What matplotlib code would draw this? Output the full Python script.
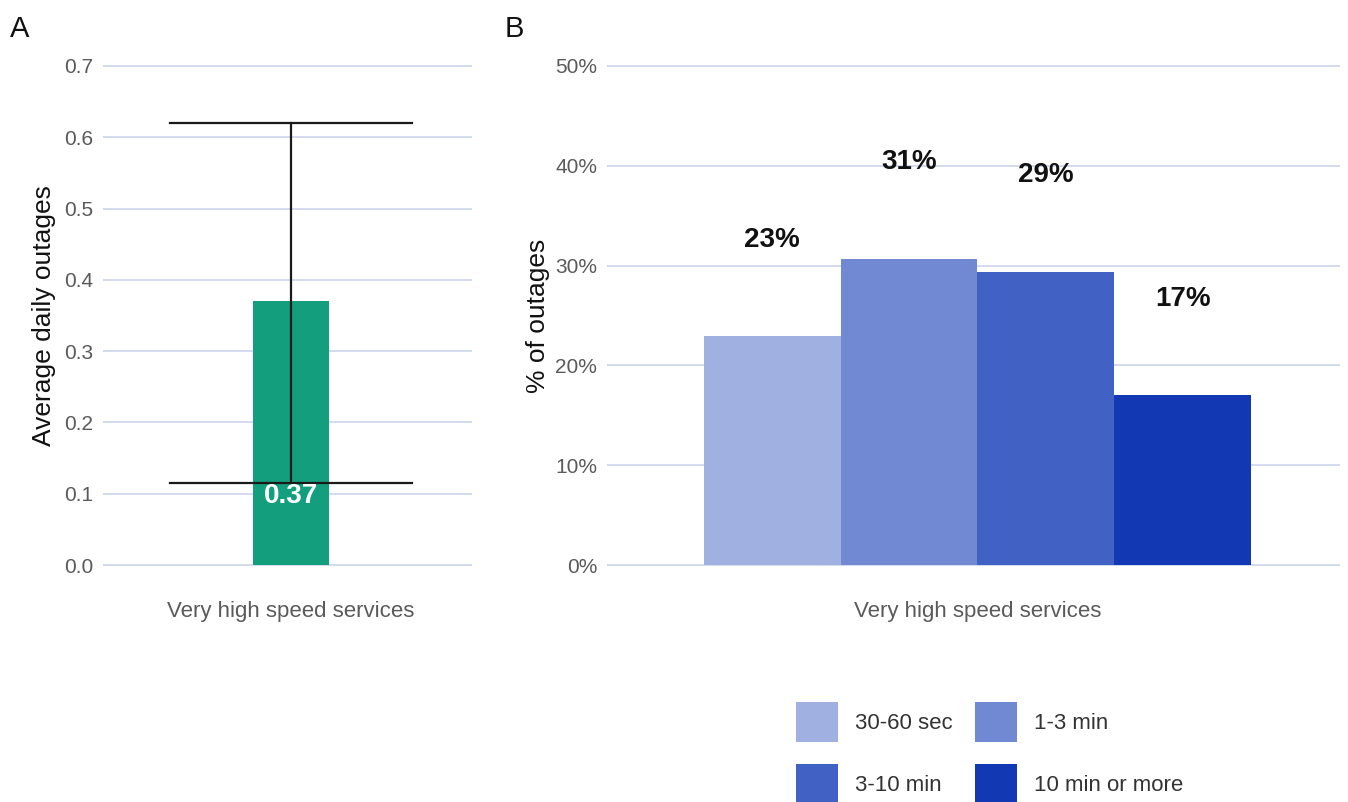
import matplotlib
matplotlib.use("Agg")
import matplotlib.pyplot as plt
from matplotlib.patches import Patch

# ---- data ----
service = ["Very high speed services"]
avg_outages = [0.37]
avg_low = [0.115]
avg_high = [0.62]
a_ticks = [0.0, 0.1, 0.2, 0.3, 0.4, 0.5, 0.6, 0.7]

durations = ["30-60 sec", "1-3 min", "3-10 min", "10 min or more"]
share = [0.229, 0.307, 0.294, 0.170]
b_ticks = [0.0, 0.1, 0.2, 0.3, 0.4, 0.5]

green = "#139E7E"
blues = ["#A0B0E1", "#7188D3", "#4161C4", "#1238B4"]
grid_c = "#D4DBEE"
tick_c = "#5A5A5A"

plt.rcParams["font.family"] = ["Liberation Sans", "DejaVu Sans"]

W, H = 1348, 802
fig = plt.figure(figsize=(W / 100, H / 100), dpi=100)


def px_axes(x0, x1, y0, y1):
    return fig.add_axes([x0 / W, 1 - y1 / H, (x1 - x0) / W, (y1 - y0) / H])


def style(ax):
    for s in ax.spines.values():
        s.set_visible(False)
    ax.tick_params(length=0, labelsize=15, labelcolor=tick_c, pad=7)
    ax.tick_params(axis="x", labelsize=16, pad=8)
    ax.grid(axis="y", color=grid_c, linewidth=1.4)
    ax.set_axisbelow(True)


# ---- panel A ----
axA = px_axes(103, 472, 41, 590)
style(axA)
axA.set_ylim(-0.035, 0.735)
axA.set_xlim(-0.611, 0.589)
axA.bar([0], avg_outages, width=0.247, color=green, zorder=2)
axA.plot([0, 0], [avg_low[0], avg_high[0]], color="#1a1a1a", lw=1.6, zorder=3)
for yv in (avg_low[0], avg_high[0]):
    axA.plot([-0.394, 0.394], [yv, yv], color="#1a1a1a", lw=1.6, zorder=3)
axA.text(0, avg_low[0] - 0.018, f"{avg_outages[0]:.2f}", ha="center", va="center",
         color="white", fontsize=20, fontweight="bold", zorder=4)
axA.set_yticks(a_ticks)
axA.set_yticklabels([f"{t:.1f}" for t in a_ticks])
axA.set_xticks([0])
axA.set_xticklabels(service)
axA.set_ylabel("Average daily outages", fontsize=19, color="#111111", labelpad=6)

# ---- panel B ----
axB = px_axes(607, 1340, 41, 590)
style(axB)
axB.set_ylim(-0.025, 0.525)
axB.set_xlim(-0.609, 0.596)
bw = 0.225
offsets = [(i - 1.5) * bw for i in range(len(durations))]
for off, v, c, lab in zip(offsets, share, blues, durations):
    axB.bar([off], [v], width=bw, color=c, label=lab, zorder=2)
    axB.text(off, v + 0.097, f"{round(v * 100):d}%", ha="center", va="center",
             fontsize=20, fontweight="bold", color="#111111", zorder=4)
axB.set_yticks(b_ticks)
axB.set_yticklabels([f"{int(round(t * 100))}%" for t in b_ticks])
axB.set_xticks([0])
axB.set_xticklabels(service)
axB.set_ylabel("% of outages", fontsize=19, color="#111111", labelpad=4)

# ---- panel letters ----
fig.text(10 / W, 1 - 37 / H, "A", fontsize=21, color="#111111")
fig.text(505 / W, 1 - 37 / H, "B", fontsize=21, color="#111111")

# ---- legend (filled column-wise: 2 columns) ----
order = [0, 2, 1, 3]
handles = [Patch(facecolor=blues[i]) for i in order]
labels = [durations[i] for i in order]
fig.legend(handles, labels, ncol=2, loc="upper left",
           bbox_to_anchor=(796 / W, 1 - 702 / H), frameon=False,
           fontsize=16, handlelength=1.9, handleheight=2.42,
           handletextpad=0.75, columnspacing=1.0, labelspacing=0.95,
           borderpad=0, borderaxespad=0, labelcolor="#333333")

fig.savefig("out.png", dpi=100, facecolor="white")
